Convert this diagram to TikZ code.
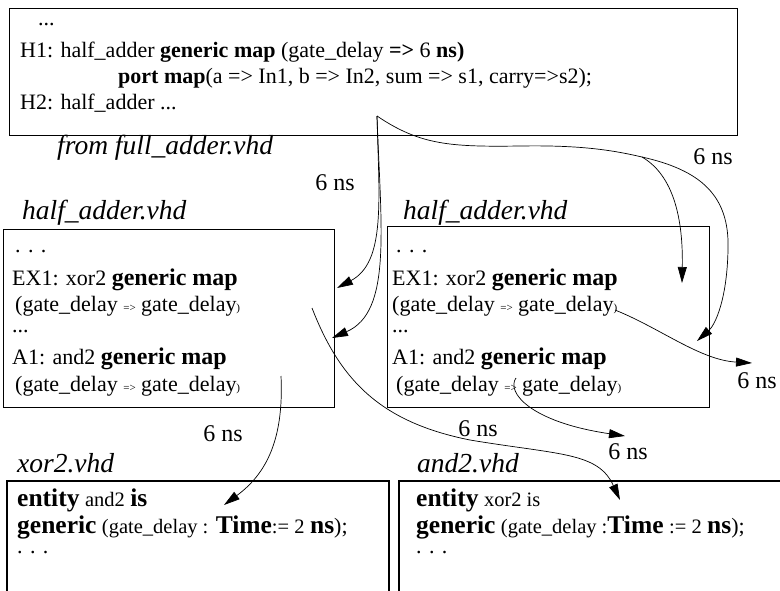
\documentclass[tikz,border=0pt]{standalone}
\usepackage{fontspec}
\setmainfont{Liberation Serif}
\usetikzlibrary{arrows.meta}
\newcommand{\TopF}{\fontsize{22}{25}\selectfont}
\newcommand{\NormF}{\fontsize{22}{26}\selectfont}
\newcommand{\GenF}{\fontsize{24}{28}\selectfont\bfseries}
\newcommand{\TinyF}{\fontsize{11}{12}\selectfont}
\newcommand{\SmF}{\fontsize{20.5}{24}\selectfont}
\newcommand{\KwF}{\fontsize{25.5}{28}\selectfont\bfseries}
\newcommand{\LabF}{\fontsize{27.5}{30}\selectfont\itshape}
\newcommand{\NsF}{\fontsize{24}{28}\selectfont}
\begin{document}
\begin{tikzpicture}[x=1pt,y=-1pt,
  frame/.style={draw,line width=1.1pt,inner sep=0pt,anchor=north west},
  topcode/.style={anchor=west,inner sep=0pt,font=\TopF},
  code/.style={anchor=west,inner sep=0pt,font=\NormF},
  fname/.style={anchor=west,inner sep=0pt,font=\LabF},
  lab/.style={inner sep=0pt,font=\NsF},
  conn/.style={line width=0.7pt,-{Triangle[length=16pt,width=9pt]}},
  wire/.style={line width=0.7pt}]
\useasboundingbox (0,0) rectangle (780,590);

% boxes
\node[frame,minimum width=728pt,minimum height=127pt] (top) at (9,8) {};
\node[frame,minimum width=331pt,minimum height=178pt] (lbox) at (3,229) {};
\node[frame,minimum width=322pt,minimum height=181pt] (rbox) at (387,226) {};
\draw[line width=1.1pt] (7,592) -- (7,481) -- (389,481) -- (389,592);
\draw[line width=1.1pt] (399,592) -- (399,481) -- (782,481);

% top box text
\node[topcode] (t0) at (38,25) {...};
\node[topcode] (t1) at (20,52) {H1: half\_adder \textbf{generic map} (gate\_delay \textbf{=>} 6 \textbf{ns)}};
\node[topcode] (t2) at (118,78) {\textbf{port map}(a => In1, b => In2, sum => s1, carry=>s2);};
\node[topcode] (t3) at (20,103) {H2: half\_adder ...};
\node[fname] (f0) at (57,148) {from full\_adder.vhd};

% file labels
\node[fname] (f1) at (22,213) {half\_adder.vhd};
\node[fname] (f2) at (403,213) {half\_adder.vhd};
\node[fname] (f3) at (17,463) {xor2.vhd};
\node[fname] (f4) at (417,463) {and2.vhd};

% left half_adder
\node[code] (l0) at (15,252) {. . .};
\node[code] (l1) at (12,280) {EX1: xor2 {\GenF generic map}};
\node[code] (l2) at (15,306) {(gate\_delay {\TinyF =>} gate\_delay{\TinyF )}};
\node[code] (l3) at (12,332) {...};
\node[code] (l4) at (12,359) {A1: and2 {\GenF generic map}};
\node[code] (l5) at (15,386) {(gate\_delay {\TinyF =>} gate\_delay{\TinyF )}};

% right half_adder
\node[code] (r0) at (396,252) {. . .};
\node[code] (r1) at (392,280) {EX1: xor2 {\GenF generic map}};
\node[code] (r2) at (392,306) {(gate\_delay {\TinyF =>} gate\_delay{\TinyF )}};
\node[code] (r3) at (392,332) {...};
\node[code] (r4) at (392,359) {A1: and2 {\GenF generic map}};
\node[code] (r5) at (396,386) {(gate\_delay {\TinyF =>} gate\_delay{\TinyF )}};

% xor2.vhd box
\node[code] (x0) at (17,500) {{\KwF entity} {\SmF and2} {\KwF is}};
\node[code] (x1) at (17,527) {{\KwF generic} {\SmF (gate\_delay :} {\KwF Time}{\SmF := 2} {\KwF ns});};
\node[code] (x2) at (17,553) {. . .};

% and2.vhd box
\node[code] (a0) at (416,500) {{\KwF entity} {\SmF xor2 is}};
\node[code] (a1) at (416,527) {{\KwF generic} {\SmF (gate\_delay :}{\KwF Time} {\SmF := 2} {\KwF ns});};
\node[code] (a2) at (416,553) {. . .};

% delay labels
\node[lab] (d1) at (713,157) {6 ns};
\node[lab] (d2) at (335,183) {6 ns};
\node[lab] (d3) at (223,434) {6 ns};
\node[lab] (d4) at (478,429) {6 ns};
\node[lab] (d5) at (628,452) {6 ns};
\node[lab] (d6) at (757,381) {6 ns};

% connector points
\coordinate (s) at (377,116);
\coordinate (b) at (642,157);
\coordinate (tipL1) at (337,288);
\coordinate (tipL2) at (332,338);
\coordinate (tipR1) at (682,283);
\coordinate (tipR2) at (697,341);
\coordinate (lsrc) at (312,308);
\coordinate (lsrc2) at (281,376);
\coordinate (rsrc) at (615,310);
\coordinate (rsrc2) at (516,378);
\coordinate (tipX) at (224,505);
\coordinate (tipA) at (620,500);
\coordinate (tipE) at (752,363);
\coordinate (tipF) at (625,436);

% connectors
\draw[conn] (s) .. controls (379,200) and (386,262) .. (tipL1);
\draw[conn] (s) .. controls (381,230) and (392,312) .. (tipL2);
\draw[wire] (s) .. controls (420,145) and (450,147) .. (520,146) .. controls (580,145) and (612,150) .. (b);
\draw[conn] (b) .. controls (678,178) and (683,230) .. (tipR1);
\draw[conn] (b) .. controls (700,170) and (730,195) .. (728,250) .. controls (727,300) and (715,325) .. (tipR2);
\draw[conn] (lsrc) .. controls (340,380) and (380,422) .. (470,440) .. controls (560,455) and (598,452) .. (tipA);
\draw[conn] (lsrc2) .. controls (284,440) and (266,474) .. (tipX);
\draw[conn] (rsrc) .. controls (660,328) and (700,360) .. (tipE);
\draw[conn] (rsrc2) .. controls (506,392) and (530,422) .. (tipF);
\end{tikzpicture}
\end{document}
